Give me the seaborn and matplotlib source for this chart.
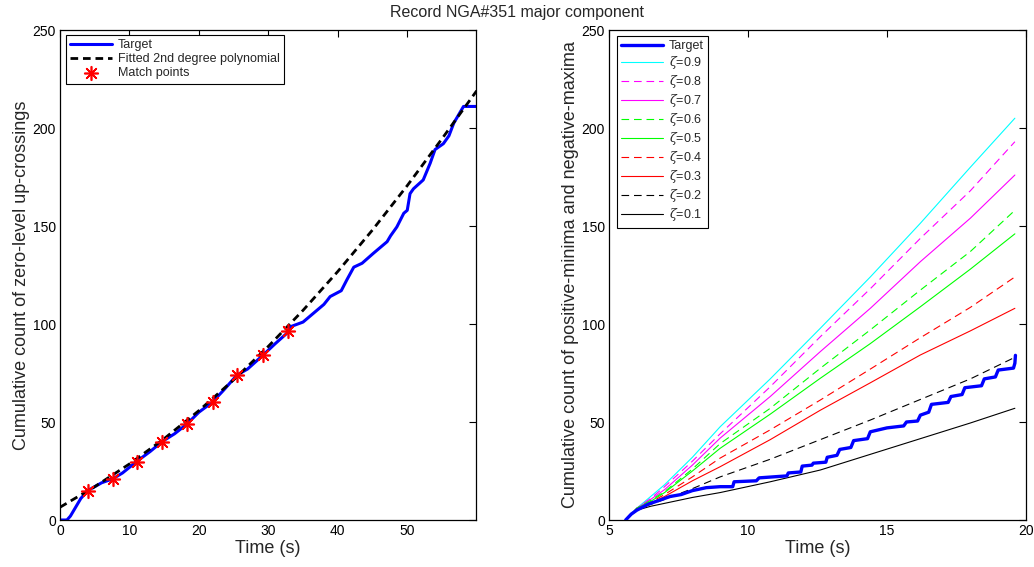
import numpy as np
import pandas as pd
import matplotlib
matplotlib.use("Agg")
import matplotlib.pyplot as plt
import seaborn as sns

# ---------------- data ----------------
# Left panel: target cumulative zero-level up-crossings
left_t = [0, 1.0, 1.5, 2.0, 2.5, 3.0, 3.5, 4.0, 5.0, 6.0, 7.6, 9.0, 11.1, 13.0, 14.7,
          16.5, 18.3, 20.0, 21.9, 23.5, 25.5, 27.0, 29.2, 31.0, 32.9, 33.1, 35.0,
          36.5, 38.0, 38.9, 40.5, 41.3, 42.3, 43.5, 45.1, 47.1, 47.6, 48.5, 49.5,
          50.0, 50.4, 50.9, 52.3, 53.3, 54.0, 55.2, 56.0, 56.7, 58.1, 60.0]
left_target = [0, 0, 2, 5, 8, 11, 13, 15, 17, 19, 21, 24, 30, 35, 40,
               44, 49, 55, 60, 66, 74, 77, 84, 90, 96, 98.5, 101,
               105.5, 110, 114, 117, 122.5, 129, 131, 136, 142, 145, 149.5, 156.5,
               158, 166.5, 169, 173.5, 182, 189, 192, 196, 202.5, 211, 211]
# Fitted 2nd degree polynomial (read at 5 s steps)
fit_t = [0, 5, 10, 15, 20, 25, 30, 35, 40, 45, 50, 55, 60]
fit_v = [6.5, 17.0, 28.6, 41.5, 55.8, 71.5, 88.6, 107, 126.8, 148, 170.6, 194.5, 219]
# Match points
match_t = [4.0, 7.6, 11.1, 14.7, 18.3, 22.0, 25.5, 29.2, 32.9]
match_v = [14.8, 21, 29.6, 39.8, 49, 60.2, 74, 84, 96.5]

# Right panel: cumulative count of positive-minima and negative-maxima
right_t = [5.6, 6.0, 6.5, 7.0, 8.0, 9.0, 10.8, 12.6, 14.4, 16.2, 18.0, 19.6]
zeta_labels = ["0.9", "0.8", "0.7", "0.6", "0.5", "0.4", "0.3", "0.2", "0.1"]
z09 = [0, 6, 12, 18, 32, 47.6, 72, 97.8, 124, 151.4, 180, 205]
z08 = [0, 6, 11, 17, 30, 44, 68, 93.5, 118, 143.7, 168, 193]
z07 = [0, 6, 10.5, 15.5, 28, 41.8, 63, 85.9, 108, 131.8, 154, 176]
z06 = [0, 6, 10, 14.5, 26, 39, 57, 77.4, 97, 117.3, 137, 158]
z05 = [0, 6, 9.5, 14, 25, 36.6, 54, 72.3, 90, 108.8, 128, 146]
z04 = [0, 5.5, 9, 13, 22, 31.6, 46, 61.2, 77, 93, 108.5, 124]
z03 = [0, 5.5, 8.5, 12, 20, 27.2, 41, 56, 70, 84.2, 96.5, 108]
z02 = [0, 5.5, 8, 10.5, 16, 22, 31, 41, 51, 61.5, 72, 83]
z01 = [0, 5, 7, 8.5, 11.5, 14, 19.5, 25.5, 33.5, 41.5, 49.5, 57]
zeta_series = [z09, z08, z07, z06, z05, z04, z03, z02, z01]
zeta_colors = ["#00ffff", "#ff00ff", "#ff00ff", "#00ff00", "#00ff00",
               "#ff0000", "#ff0000", "#000000", "#000000"]
zeta_dashed = [False, True, False, True, False, True, False, True, False]

right_target_t = [5.6, 5.8, 6.0, 6.4, 6.8, 7.2, 7.6, 8.0, 8.5, 9.0,
                  9.45, 9.5, 10.3, 10.4, 11.4, 11.45, 11.9, 11.95, 12.3, 12.35,
                  12.8, 12.85, 13.2, 13.3, 13.7, 13.8, 14.3, 14.4, 15.0, 15.6,
                  15.7, 16.1, 16.2, 16.5, 16.6, 17.2, 17.3, 17.7, 17.8, 18.4,
                  18.5, 18.9, 19.0, 19.55, 19.6, 19.62]
right_target_v = [0, 3, 5, 8, 10, 12, 13, 15, 16.5, 17,
                  17, 19.5, 20, 21.5, 22.5, 24, 24.5, 27.5, 28, 29,
                  29.5, 32, 33, 36, 37, 40.5, 41.5, 45, 47, 48,
                  50, 50.5, 53.5, 55, 59, 60, 63, 64, 67.5, 68.5,
                  72, 73, 76.5, 77.5, 80, 84]

# ---------------- style ----------------
sns.set_style("white")
plt.rcParams["font.family"] = ["Liberation Sans", "DejaVu Sans"]
plt.rcParams["mathtext.fontset"] = "custom"
plt.rcParams["mathtext.it"] = "DejaVu Serif:italic"
plt.rcParams["lines.scale_dashes"] = False
plt.rcParams["axes.edgecolor"] = "black"
plt.rcParams["axes.linewidth"] = 0.9

fig = plt.figure(figsize=(10.34, 5.67), dpi=100)
axL = fig.add_axes([60 / 1034, 47 / 567, 416 / 1034, 490 / 567])
axR = fig.add_axes([609 / 1034, 47 / 567, 417 / 1034, 490 / 567])

DASH = (0, (5.5, 3.5))

# ---- left panel ----
sns.lineplot(x=left_t, y=left_target, ax=axL, color="#0000ff", linewidth=2.2,
             estimator=None, sort=False, label="Target")
sns.lineplot(x=fit_t, y=fit_v, ax=axL, color="black", linewidth=2.0,
             linestyle=DASH, estimator=None, sort=False,
             label="Fitted 2nd degree polynomial")
sns.scatterplot(x=match_t, y=match_v, ax=axL, color="red", marker=(8, 2, 0),
                s=95, linewidth=1.2, edgecolor="red", label="Match points", zorder=5)
axL.set_xlim(0, 59.9)
axL.set_ylim(0, 250)
axL.set_xticks([0, 10, 20, 30, 40, 50])
axL.set_yticks([0, 50, 100, 150, 200, 250])
axL.set_xlabel("Time (s)", fontsize=13, labelpad=1)
axL.set_ylabel("Cumulative count of zero-level up-crossings", fontsize=13, labelpad=2)
legL = axL.legend(loc="upper left", bbox_to_anchor=(6 / 416, 1 - 5 / 490),
                  borderaxespad=0, fontsize=9, frameon=True, fancybox=False,
                  edgecolor="black", framealpha=1, handlelength=3.3,
                  labelspacing=0.15, borderpad=0.35, handletextpad=0.5)
legL.get_frame().set_linewidth(0.8)

# ---- right panel ----
sns.lineplot(x=right_target_t, y=right_target_v, ax=axR, color="#0000ff",
             linewidth=2.4, estimator=None, sort=False,
             label="Target", zorder=4)
for lab, vals, col, dsh in zip(zeta_labels, zeta_series, zeta_colors, zeta_dashed):
    sns.lineplot(x=right_t, y=vals, ax=axR, color=col, linewidth=0.8,
                 linestyle=DASH if dsh else "-", estimator=None, sort=False,
                 label=r"$\zeta$=" + lab)
axR.set_xlim(5, 20)
axR.set_ylim(0, 250)
axR.set_xticks([5, 10, 15, 20])
axR.set_yticks([0, 50, 100, 150, 200, 250])
axR.set_xlabel("Time (s)", fontsize=13, labelpad=1)
axR.set_ylabel("Cumulative count of positive-minima and negative-maxima",
               fontsize=13, labelpad=2)
legR = axR.legend(loc="upper left", bbox_to_anchor=(8 / 417, 1 - 6 / 490),
                  borderaxespad=0, fontsize=9, frameon=True, fancybox=False,
                  edgecolor="black", framealpha=1, handlelength=3.3,
                  labelspacing=0.16, borderpad=0.35, handletextpad=0.5)
legR.get_frame().set_linewidth(0.8)

for ax in (axL, axR):
    ax.tick_params(direction="in", top=True, right=True, length=5, width=0.8,
                   labelsize=10, pad=3, colors="black")
    for sp in ax.spines.values():
        sp.set_visible(True)
        sp.set_color("black")

fig.suptitle("Record NGA#351 major component", fontsize=11.5, y=0.992)

fig.savefig("out.png", dpi=100, facecolor="white")
